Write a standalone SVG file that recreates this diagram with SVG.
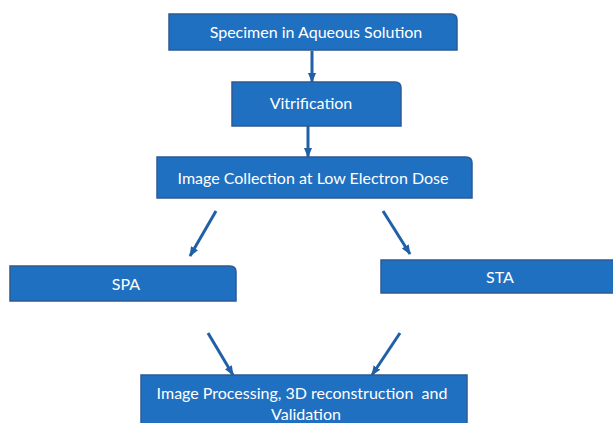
<svg xmlns="http://www.w3.org/2000/svg" width="613" height="423" viewBox="0 0 613 423">
<defs>
<marker id="ah" markerUnits="userSpaceOnUse" markerWidth="10" markerHeight="10" viewBox="0 0 10 10" refX="9" refY="5" orient="auto">
<path d="M0,1 L10,5 L0,9 z" fill="#2060A6"/>
</marker>
<style>
.box{fill:#1F70C1;stroke:#2C5A92;stroke-width:1.5}
.lbl{font-family:Lato,"Open Sans","Liberation Sans",sans-serif;font-size:16px;fill:#FFFFFF;text-anchor:middle}
.arr{stroke:#2060A6;stroke-width:3;fill:none;marker-end:url(#ah)}
</style>
</defs>
<rect width="613" height="423" fill="#FFFFFF"/>
<g id="connectors">
<line class="arr" x1="312" y1="51" x2="312" y2="82"/>
<line class="arr" x1="308" y1="126" x2="308" y2="157"/>
<line class="arr" x1="216" y1="211" x2="190" y2="256"/>
<line class="arr" x1="383" y1="211" x2="410" y2="254"/>
<line class="arr" x1="208" y1="333" x2="233" y2="375"/>
<line class="arr" x1="400" y1="333" x2="372" y2="375"/>
</g>
<g id="specimen">
<path class="box" d="M169,14 H451 Q457,14 457,20 V50 H169 Z"/>
<text class="lbl" x="316" y="38">Specimen in Aqueous Solution</text>
</g>
<g id="vitrification">
<path class="box" d="M232,82 H395 Q401,82 401,88 V126 H232 Z"/>
<text class="lbl" x="311" y="109">Vitrification</text>
</g>
<g id="collection">
<path class="box" d="M157,157 H466 Q472,157 472,163 V198 H157 Z"/>
<text class="lbl" x="313" y="184">Image Collection at Low Electron Dose</text>
</g>
<g id="spa">
<path class="box" d="M10,266 H230 Q236,266 236,272 V301 H10 Z"/>
<text class="lbl" x="126" y="290">SPA</text>
</g>
<g id="sta">
<path class="box" d="M381,260 H620 V293 H381 Z"/>
<text class="lbl" x="500" y="283">STA</text>
</g>
<g id="processing">
<path class="box" d="M141,375 H467 V430 H141 Z"/>
<text class="lbl" x="302" y="399" xml:space="preserve" style="white-space:pre">Image Processing, 3D reconstruction  and</text>
<text class="lbl" x="306" y="420">Validation</text>
</g>
</svg>
